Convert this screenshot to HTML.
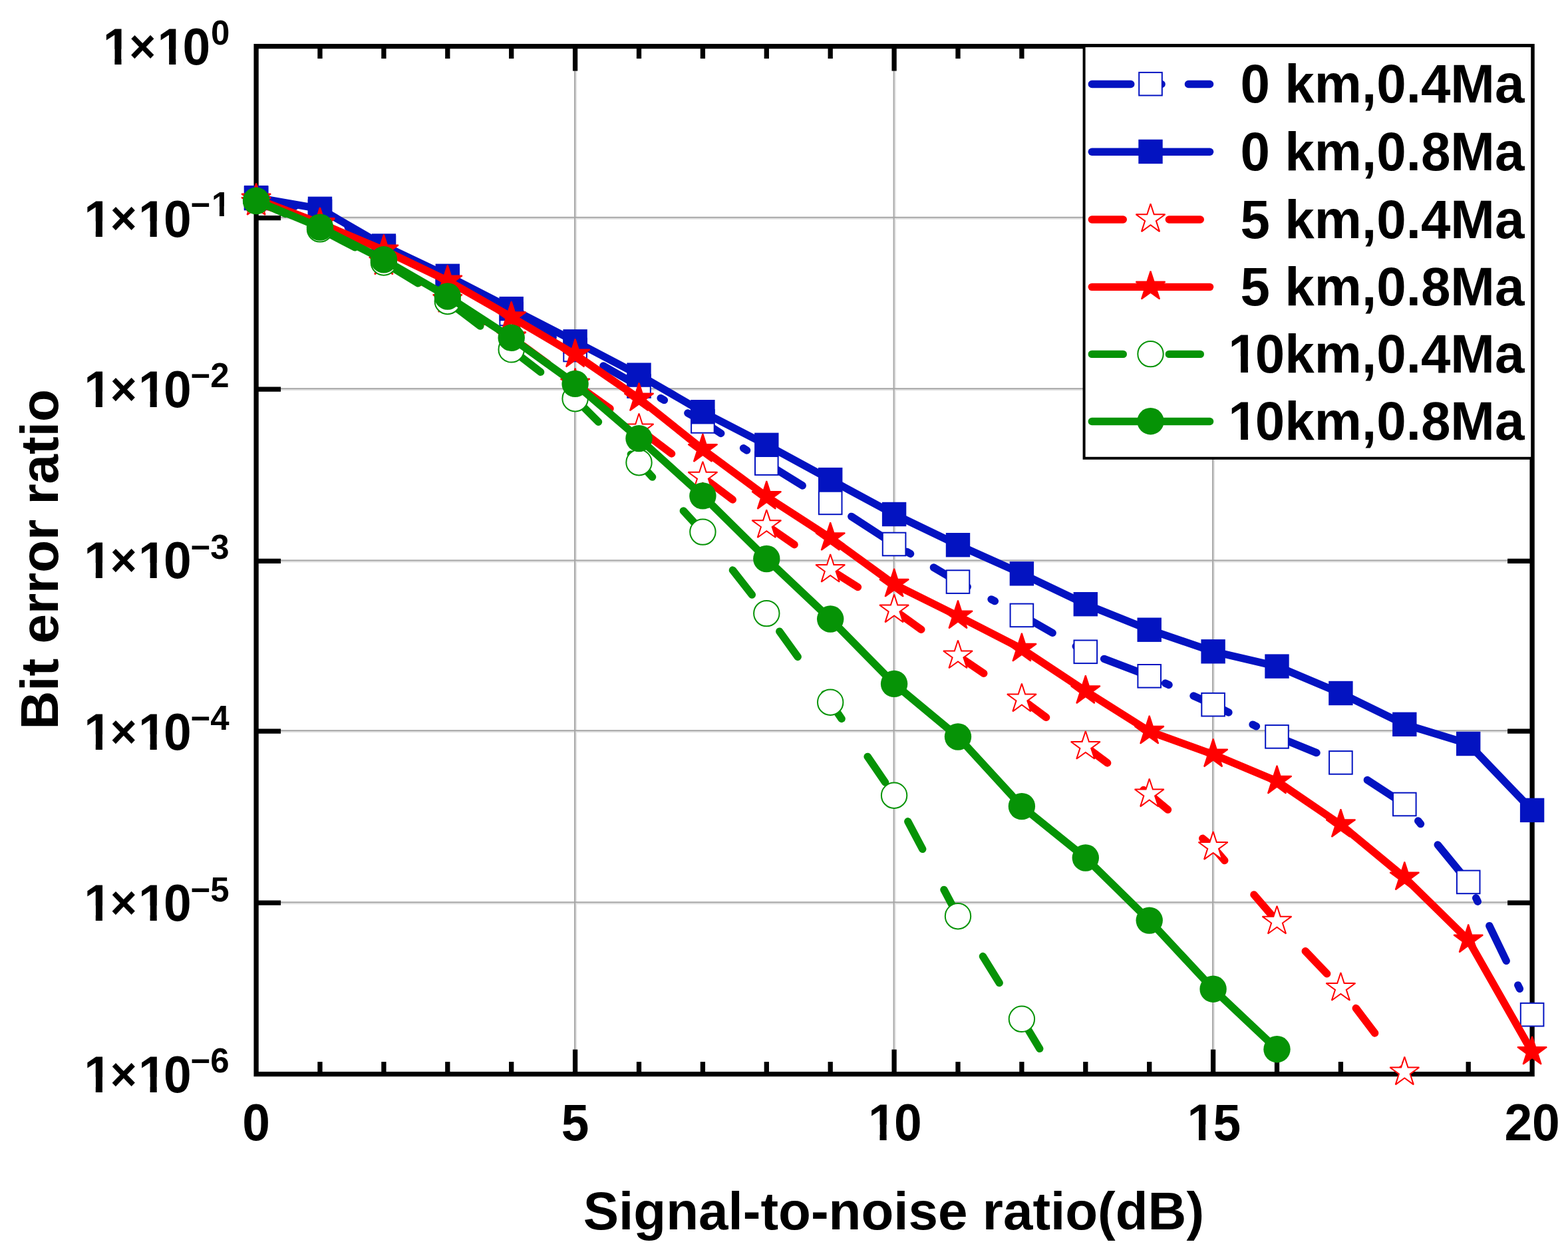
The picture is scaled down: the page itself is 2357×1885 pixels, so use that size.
<!DOCTYPE html>
<html lang="en"><head><meta charset="utf-8"><title>Bit error ratio vs signal-to-noise ratio</title>
<style>html,body{margin:0;padding:0;background:#fff}svg{display:block}text{font-family:"Liberation Sans",sans-serif;font-weight:bold;fill:#000}</style>
</head><body>
<svg width="2357" height="1885" viewBox="0 0 2357 1885">
<rect x="0" y="0" width="2357" height="1885" fill="#fff"/>
<defs><clipPath id="k0"><path clip-rule="evenodd" d="M-9000 -9000H9000V9000H-9000ZM1849.58 -24H1865.14V4H1849.58ZM1875.94 -24H1889.18V4H1875.94Z"/></clipPath><clipPath id="k1"><path clip-rule="evenodd" d="M-9000 -9000H9000V9000H-9000ZM1849.58 -24H1865.14V4H1849.58ZM1875.94 -24H1889.18V4H1875.94Z"/></clipPath><clipPath id="k2"><path clip-rule="evenodd" d="M-9000 -9000H9000V9000H-9000ZM1307.9 -22.5H1322.49V3.75H1307.9ZM1332.61 -22.5H1345.03V3.75H1332.61Z"/></clipPath><clipPath id="k3"><path clip-rule="evenodd" d="M-9000 -9000H9000V9000H-9000ZM1787.4 -22.5H1801.99V3.75H1787.4ZM1812.11 -22.5H1824.53V3.75H1812.11Z"/></clipPath><clipPath id="k4"><path clip-rule="evenodd" d="M-9000 -9000H9000V9000H-9000ZM129.2 -22.5H143.79V3.75H129.2ZM153.91 -22.5H166.32V3.75H153.91ZM211 -22.5H225.59V3.75H211ZM235.71 -22.5H248.12V3.75H235.71Z"/></clipPath><clipPath id="k5"><path clip-rule="evenodd" d="M-9000 -9000H9000V9000H-9000ZM157.8 -22.5H172.39V3.75H157.8ZM182.51 -22.5H194.93V3.75H182.51ZM239.6 -22.5H254.19V3.75H239.6ZM264.31 -22.5H276.73V3.75H264.31Z"/></clipPath><clipPath id="k6"><path clip-rule="evenodd" d="M-9000 -9000H9000V9000H-9000ZM320.02 -15.3H329.94V2.55H320.02ZM336.83 -15.3H345.27V2.55H336.83Z"/></clipPath></defs>
<defs><clipPath id="pc"><rect x="377.1" y="69.6" width="1934" height="1545"/></clipPath></defs>
<g fill="#e2e2e2"><rect x="385.1" y="327.8" width="1918" height="2"/><rect x="385.1" y="585.2" width="1918" height="2"/><rect x="385.1" y="843.4" width="1918" height="2"/><rect x="385.1" y="1099.2" width="1918" height="2"/><rect x="385.1" y="1357.3" width="1918" height="2"/><rect x="865.1" y="69.6" width="2" height="1545"/><rect x="1344.6" y="69.6" width="2" height="1545"/><rect x="1824.1" y="69.6" width="2" height="1545"/></g>
<g fill="#a6a6a6"><rect x="385.1" y="325.8" width="1918" height="2"/><rect x="385.1" y="583.2" width="1918" height="2"/><rect x="385.1" y="841.4" width="1918" height="2"/><rect x="385.1" y="1097.2" width="1918" height="2"/><rect x="385.1" y="1355.3" width="1918" height="2"/><rect x="863.1" y="69.6" width="2" height="1545"/><rect x="1342.6" y="69.6" width="2" height="1545"/><rect x="1822.1" y="69.6" width="2" height="1545"/></g>
<g stroke="#000" stroke-width="7.3" fill="none"><rect x="385.1" y="69.6" width="1918" height="1545" fill="none"/><line x1="481" y1="1614.6" x2="481" y2="1596.1"/><line x1="481" y1="69.6" x2="481" y2="88.1"/><line x1="576.9" y1="1614.6" x2="576.9" y2="1596.1"/><line x1="576.9" y1="69.6" x2="576.9" y2="88.1"/><line x1="672.8" y1="1614.6" x2="672.8" y2="1596.1"/><line x1="672.8" y1="69.6" x2="672.8" y2="88.1"/><line x1="768.7" y1="1614.6" x2="768.7" y2="1596.1"/><line x1="768.7" y1="69.6" x2="768.7" y2="88.1"/><line x1="864.6" y1="1614.6" x2="864.6" y2="1577.6"/><line x1="864.6" y1="69.6" x2="864.6" y2="106.6"/><line x1="960.5" y1="1614.6" x2="960.5" y2="1596.1"/><line x1="960.5" y1="69.6" x2="960.5" y2="88.1"/><line x1="1056.4" y1="1614.6" x2="1056.4" y2="1596.1"/><line x1="1056.4" y1="69.6" x2="1056.4" y2="88.1"/><line x1="1152.3" y1="1614.6" x2="1152.3" y2="1596.1"/><line x1="1152.3" y1="69.6" x2="1152.3" y2="88.1"/><line x1="1248.2" y1="1614.6" x2="1248.2" y2="1596.1"/><line x1="1248.2" y1="69.6" x2="1248.2" y2="88.1"/><line x1="1344.1" y1="1614.6" x2="1344.1" y2="1577.6"/><line x1="1344.1" y1="69.6" x2="1344.1" y2="106.6"/><line x1="1440" y1="1614.6" x2="1440" y2="1596.1"/><line x1="1440" y1="69.6" x2="1440" y2="88.1"/><line x1="1535.9" y1="1614.6" x2="1535.9" y2="1596.1"/><line x1="1535.9" y1="69.6" x2="1535.9" y2="88.1"/><line x1="1631.8" y1="1614.6" x2="1631.8" y2="1596.1"/><line x1="1631.8" y1="69.6" x2="1631.8" y2="88.1"/><line x1="1727.7" y1="1614.6" x2="1727.7" y2="1596.1"/><line x1="1727.7" y1="69.6" x2="1727.7" y2="88.1"/><line x1="1823.6" y1="1614.6" x2="1823.6" y2="1577.6"/><line x1="1823.6" y1="69.6" x2="1823.6" y2="106.6"/><line x1="1919.5" y1="1614.6" x2="1919.5" y2="1596.1"/><line x1="1919.5" y1="69.6" x2="1919.5" y2="88.1"/><line x1="2015.4" y1="1614.6" x2="2015.4" y2="1596.1"/><line x1="2015.4" y1="69.6" x2="2015.4" y2="88.1"/><line x1="2111.3" y1="1614.6" x2="2111.3" y2="1596.1"/><line x1="2111.3" y1="69.6" x2="2111.3" y2="88.1"/><line x1="2207.2" y1="1614.6" x2="2207.2" y2="1596.1"/><line x1="2207.2" y1="69.6" x2="2207.2" y2="88.1"/><line x1="385.1" y1="327.7" x2="422.1" y2="327.7"/><line x1="2303.1" y1="327.7" x2="2266.1" y2="327.7"/><line x1="385.1" y1="585.1" x2="422.1" y2="585.1"/><line x1="2303.1" y1="585.1" x2="2266.1" y2="585.1"/><line x1="385.1" y1="843.3" x2="422.1" y2="843.3"/><line x1="2303.1" y1="843.3" x2="2266.1" y2="843.3"/><line x1="385.1" y1="1099.1" x2="422.1" y2="1099.1"/><line x1="2303.1" y1="1099.1" x2="2266.1" y2="1099.1"/><line x1="385.1" y1="1357.2" x2="422.1" y2="1357.2"/><line x1="2303.1" y1="1357.2" x2="2266.1" y2="1357.2"/></g>
<g>
<polyline clip-path="url(#pc)" points="385.1,298 481,318 576.9,372 672.8,420 768.7,471.9 864.6,526 960.5,580.5 1056.4,633.4 1152.3,696.6 1248.2,755.9 1344.1,818 1440,874.6 1535.9,924.9 1631.8,979.8 1727.7,1016.3 1823.6,1059.2 1919.5,1107.4 2015.4,1146.4 2111.3,1209 2207.2,1325.9 2303.1,1525.2" fill="none" stroke="#0313C1" stroke-width="11.4" stroke-linecap="round" stroke-linejoin="round" stroke-dasharray="58.5 40.5 6 40.5" stroke-dashoffset="144.5"/>
<rect x="367.8" y="280.7" width="34.6" height="34.6" fill="#fff" stroke="#0313C1" stroke-width="2.0"/>
<rect x="463.7" y="300.7" width="34.6" height="34.6" fill="#fff" stroke="#0313C1" stroke-width="2.0"/>
<rect x="559.6" y="354.7" width="34.6" height="34.6" fill="#fff" stroke="#0313C1" stroke-width="2.0"/>
<rect x="655.5" y="402.7" width="34.6" height="34.6" fill="#fff" stroke="#0313C1" stroke-width="2.0"/>
<rect x="751.4" y="454.6" width="34.6" height="34.6" fill="#fff" stroke="#0313C1" stroke-width="2.0"/>
<rect x="847.3" y="508.7" width="34.6" height="34.6" fill="#fff" stroke="#0313C1" stroke-width="2.0"/>
<rect x="943.2" y="563.2" width="34.6" height="34.6" fill="#fff" stroke="#0313C1" stroke-width="2.0"/>
<rect x="1039.1" y="616.1" width="34.6" height="34.6" fill="#fff" stroke="#0313C1" stroke-width="2.0"/>
<rect x="1135" y="679.3" width="34.6" height="34.6" fill="#fff" stroke="#0313C1" stroke-width="2.0"/>
<rect x="1230.9" y="738.6" width="34.6" height="34.6" fill="#fff" stroke="#0313C1" stroke-width="2.0"/>
<rect x="1326.8" y="800.7" width="34.6" height="34.6" fill="#fff" stroke="#0313C1" stroke-width="2.0"/>
<rect x="1422.7" y="857.3" width="34.6" height="34.6" fill="#fff" stroke="#0313C1" stroke-width="2.0"/>
<rect x="1518.6" y="907.6" width="34.6" height="34.6" fill="#fff" stroke="#0313C1" stroke-width="2.0"/>
<rect x="1614.5" y="962.5" width="34.6" height="34.6" fill="#fff" stroke="#0313C1" stroke-width="2.0"/>
<rect x="1710.4" y="999" width="34.6" height="34.6" fill="#fff" stroke="#0313C1" stroke-width="2.0"/>
<rect x="1806.3" y="1041.9" width="34.6" height="34.6" fill="#fff" stroke="#0313C1" stroke-width="2.0"/>
<rect x="1902.2" y="1090.1" width="34.6" height="34.6" fill="#fff" stroke="#0313C1" stroke-width="2.0"/>
<rect x="1998.1" y="1129.1" width="34.6" height="34.6" fill="#fff" stroke="#0313C1" stroke-width="2.0"/>
<rect x="2094" y="1191.7" width="34.6" height="34.6" fill="#fff" stroke="#0313C1" stroke-width="2.0"/>
<rect x="2189.9" y="1308.6" width="34.6" height="34.6" fill="#fff" stroke="#0313C1" stroke-width="2.0"/>
<rect x="2285.8" y="1507.9" width="34.6" height="34.6" fill="#fff" stroke="#0313C1" stroke-width="2.0"/>
<polyline clip-path="url(#pc)" points="385.1,297.1 481,313.8 576.9,369.5 672.8,414.8 768.7,464.1 864.6,513.3 960.5,563.6 1056.4,619.2 1152.3,668.8 1248.2,721.1 1344.1,773 1440,819.2 1535.9,862.3 1631.8,908.2 1727.7,946.7 1823.6,979.3 1919.5,1001.6 2015.4,1042 2111.3,1088.8 2207.2,1118 2303.1,1217.9" fill="none" stroke="#0313C1" stroke-width="11.4" stroke-linecap="round" stroke-linejoin="round"/>
<rect x="366.9" y="278.9" width="36.4" height="36.4" fill="#0313C1"/>
<rect x="462.8" y="295.6" width="36.4" height="36.4" fill="#0313C1"/>
<rect x="558.7" y="351.3" width="36.4" height="36.4" fill="#0313C1"/>
<rect x="654.6" y="396.6" width="36.4" height="36.4" fill="#0313C1"/>
<rect x="750.5" y="445.9" width="36.4" height="36.4" fill="#0313C1"/>
<rect x="846.4" y="495.1" width="36.4" height="36.4" fill="#0313C1"/>
<rect x="942.3" y="545.4" width="36.4" height="36.4" fill="#0313C1"/>
<rect x="1038.2" y="601" width="36.4" height="36.4" fill="#0313C1"/>
<rect x="1134.1" y="650.6" width="36.4" height="36.4" fill="#0313C1"/>
<rect x="1230" y="702.9" width="36.4" height="36.4" fill="#0313C1"/>
<rect x="1325.9" y="754.8" width="36.4" height="36.4" fill="#0313C1"/>
<rect x="1421.8" y="801" width="36.4" height="36.4" fill="#0313C1"/>
<rect x="1517.7" y="844.1" width="36.4" height="36.4" fill="#0313C1"/>
<rect x="1613.6" y="890" width="36.4" height="36.4" fill="#0313C1"/>
<rect x="1709.5" y="928.5" width="36.4" height="36.4" fill="#0313C1"/>
<rect x="1805.4" y="961.1" width="36.4" height="36.4" fill="#0313C1"/>
<rect x="1901.3" y="983.4" width="36.4" height="36.4" fill="#0313C1"/>
<rect x="1997.2" y="1023.8" width="36.4" height="36.4" fill="#0313C1"/>
<rect x="2093.1" y="1070.6" width="36.4" height="36.4" fill="#0313C1"/>
<rect x="2189" y="1099.8" width="36.4" height="36.4" fill="#0313C1"/>
<rect x="2284.9" y="1199.7" width="36.4" height="36.4" fill="#0313C1"/>
<polyline clip-path="url(#pc)" points="385.1,304.5 481,336.5 576.9,394 672.8,450.5 768.7,506.8 864.6,577 960.5,644.9 1056.4,717.2 1152.3,789.6 1248.2,856.4 1344.1,917 1440,985.9 1535.9,1051 1631.8,1122.4 1727.7,1194 1823.6,1273.5 1919.5,1385.1 2015.4,1485.4 2111.3,1612" fill="none" stroke="#FF0000" stroke-width="11.4" stroke-linecap="round" stroke-linejoin="round" stroke-dasharray="47 67.8" stroke-dashoffset="2.5"/>
<polygon points="385.1,281.1 390.29,297.06 407.07,297.06 393.49,306.93 398.68,322.89 385.1,313.02 371.52,322.89 376.71,306.93 363.13,297.06 379.91,297.06" fill="#fff" stroke="#FF0000" stroke-width="2.0" stroke-linejoin="miter" stroke-miterlimit="2"/>
<polygon points="481,313.1 486.19,329.06 502.97,329.06 489.39,338.93 494.58,354.89 481,345.02 467.42,354.89 472.61,338.93 459.03,329.06 475.81,329.06" fill="#fff" stroke="#FF0000" stroke-width="2.0" stroke-linejoin="miter" stroke-miterlimit="2"/>
<polygon points="576.9,370.6 582.09,386.56 598.87,386.56 585.29,396.43 590.48,412.39 576.9,402.52 563.32,412.39 568.51,396.43 554.93,386.56 571.71,386.56" fill="#fff" stroke="#FF0000" stroke-width="2.0" stroke-linejoin="miter" stroke-miterlimit="2"/>
<polygon points="672.8,427.1 677.99,443.06 694.77,443.06 681.19,452.93 686.38,468.89 672.8,459.02 659.22,468.89 664.41,452.93 650.83,443.06 667.61,443.06" fill="#fff" stroke="#FF0000" stroke-width="2.0" stroke-linejoin="miter" stroke-miterlimit="2"/>
<polygon points="768.7,483.4 773.89,499.36 790.67,499.36 777.09,509.23 782.28,525.19 768.7,515.32 755.12,525.19 760.31,509.23 746.73,499.36 763.51,499.36" fill="#fff" stroke="#FF0000" stroke-width="2.0" stroke-linejoin="miter" stroke-miterlimit="2"/>
<polygon points="864.6,553.6 869.79,569.56 886.57,569.56 872.99,579.43 878.18,595.39 864.6,585.52 851.02,595.39 856.21,579.43 842.63,569.56 859.41,569.56" fill="#fff" stroke="#FF0000" stroke-width="2.0" stroke-linejoin="miter" stroke-miterlimit="2"/>
<polygon points="960.5,621.5 965.69,637.46 982.47,637.46 968.89,647.33 974.08,663.29 960.5,653.42 946.92,663.29 952.11,647.33 938.53,637.46 955.31,637.46" fill="#fff" stroke="#FF0000" stroke-width="2.0" stroke-linejoin="miter" stroke-miterlimit="2"/>
<polygon points="1056.4,693.8 1061.59,709.76 1078.37,709.76 1064.79,719.63 1069.98,735.59 1056.4,725.72 1042.82,735.59 1048.01,719.63 1034.43,709.76 1051.21,709.76" fill="#fff" stroke="#FF0000" stroke-width="2.0" stroke-linejoin="miter" stroke-miterlimit="2"/>
<polygon points="1152.3,766.2 1157.49,782.16 1174.27,782.16 1160.69,792.03 1165.88,807.99 1152.3,798.12 1138.72,807.99 1143.91,792.03 1130.33,782.16 1147.11,782.16" fill="#fff" stroke="#FF0000" stroke-width="2.0" stroke-linejoin="miter" stroke-miterlimit="2"/>
<polygon points="1248.2,833 1253.39,848.96 1270.17,848.96 1256.59,858.83 1261.78,874.79 1248.2,864.92 1234.62,874.79 1239.81,858.83 1226.23,848.96 1243.01,848.96" fill="#fff" stroke="#FF0000" stroke-width="2.0" stroke-linejoin="miter" stroke-miterlimit="2"/>
<polygon points="1344.1,893.6 1349.29,909.56 1366.07,909.56 1352.49,919.43 1357.68,935.39 1344.1,925.52 1330.52,935.39 1335.71,919.43 1322.13,909.56 1338.91,909.56" fill="#fff" stroke="#FF0000" stroke-width="2.0" stroke-linejoin="miter" stroke-miterlimit="2"/>
<polygon points="1440,962.5 1445.19,978.46 1461.97,978.46 1448.39,988.33 1453.58,1004.29 1440,994.42 1426.42,1004.29 1431.61,988.33 1418.03,978.46 1434.81,978.46" fill="#fff" stroke="#FF0000" stroke-width="2.0" stroke-linejoin="miter" stroke-miterlimit="2"/>
<polygon points="1535.9,1027.6 1541.09,1043.56 1557.87,1043.56 1544.29,1053.43 1549.48,1069.39 1535.9,1059.52 1522.32,1069.39 1527.51,1053.43 1513.93,1043.56 1530.71,1043.56" fill="#fff" stroke="#FF0000" stroke-width="2.0" stroke-linejoin="miter" stroke-miterlimit="2"/>
<polygon points="1631.8,1099 1636.99,1114.96 1653.77,1114.96 1640.19,1124.83 1645.38,1140.79 1631.8,1130.92 1618.22,1140.79 1623.41,1124.83 1609.83,1114.96 1626.61,1114.96" fill="#fff" stroke="#FF0000" stroke-width="2.0" stroke-linejoin="miter" stroke-miterlimit="2"/>
<polygon points="1727.7,1170.6 1732.89,1186.56 1749.67,1186.56 1736.09,1196.43 1741.28,1212.39 1727.7,1202.52 1714.12,1212.39 1719.31,1196.43 1705.73,1186.56 1722.51,1186.56" fill="#fff" stroke="#FF0000" stroke-width="2.0" stroke-linejoin="miter" stroke-miterlimit="2"/>
<polygon points="1823.6,1250.1 1828.79,1266.06 1845.57,1266.06 1831.99,1275.93 1837.18,1291.89 1823.6,1282.02 1810.02,1291.89 1815.21,1275.93 1801.63,1266.06 1818.41,1266.06" fill="#fff" stroke="#FF0000" stroke-width="2.0" stroke-linejoin="miter" stroke-miterlimit="2"/>
<polygon points="1919.5,1361.7 1924.69,1377.66 1941.47,1377.66 1927.89,1387.53 1933.08,1403.49 1919.5,1393.62 1905.92,1403.49 1911.11,1387.53 1897.53,1377.66 1914.31,1377.66" fill="#fff" stroke="#FF0000" stroke-width="2.0" stroke-linejoin="miter" stroke-miterlimit="2"/>
<polygon points="2015.4,1462 2020.59,1477.96 2037.37,1477.96 2023.79,1487.83 2028.98,1503.79 2015.4,1493.92 2001.82,1503.79 2007.01,1487.83 1993.43,1477.96 2010.21,1477.96" fill="#fff" stroke="#FF0000" stroke-width="2.0" stroke-linejoin="miter" stroke-miterlimit="2"/>
<polygon points="2111.3,1588.6 2116.49,1604.56 2133.27,1604.56 2119.69,1614.43 2124.88,1630.39 2111.3,1620.52 2097.72,1630.39 2102.91,1614.43 2089.33,1604.56 2106.11,1604.56" fill="#fff" stroke="#FF0000" stroke-width="2.0" stroke-linejoin="miter" stroke-miterlimit="2"/>
<polyline clip-path="url(#pc)" points="385.1,299 481,335.5 576.9,376 672.8,422 768.7,476.6 864.6,533 960.5,598.9 1056.4,675.5 1152.3,746.5 1248.2,808.6 1344.1,878.3 1440,926 1535.9,975.3 1631.8,1038.7 1727.7,1099.3 1823.6,1134 1919.5,1174.2 2015.4,1239.6 2111.3,1319 2207.2,1413 2303.1,1581.4" fill="none" stroke="#FF0000" stroke-width="11.4" stroke-linecap="round" stroke-linejoin="round"/>
<polygon points="385.1,275.6 390.29,291.56 407.07,291.56 393.49,301.43 398.68,317.39 385.1,307.52 371.52,317.39 376.71,301.43 363.13,291.56 379.91,291.56" fill="#FF0000" stroke="#FF0000" stroke-width="2.0" stroke-linejoin="miter" stroke-miterlimit="2"/>
<polygon points="481,312.1 486.19,328.06 502.97,328.06 489.39,337.93 494.58,353.89 481,344.02 467.42,353.89 472.61,337.93 459.03,328.06 475.81,328.06" fill="#FF0000" stroke="#FF0000" stroke-width="2.0" stroke-linejoin="miter" stroke-miterlimit="2"/>
<polygon points="576.9,352.6 582.09,368.56 598.87,368.56 585.29,378.43 590.48,394.39 576.9,384.52 563.32,394.39 568.51,378.43 554.93,368.56 571.71,368.56" fill="#FF0000" stroke="#FF0000" stroke-width="2.0" stroke-linejoin="miter" stroke-miterlimit="2"/>
<polygon points="672.8,398.6 677.99,414.56 694.77,414.56 681.19,424.43 686.38,440.39 672.8,430.52 659.22,440.39 664.41,424.43 650.83,414.56 667.61,414.56" fill="#FF0000" stroke="#FF0000" stroke-width="2.0" stroke-linejoin="miter" stroke-miterlimit="2"/>
<polygon points="768.7,453.2 773.89,469.16 790.67,469.16 777.09,479.03 782.28,494.99 768.7,485.12 755.12,494.99 760.31,479.03 746.73,469.16 763.51,469.16" fill="#FF0000" stroke="#FF0000" stroke-width="2.0" stroke-linejoin="miter" stroke-miterlimit="2"/>
<polygon points="864.6,509.6 869.79,525.56 886.57,525.56 872.99,535.43 878.18,551.39 864.6,541.52 851.02,551.39 856.21,535.43 842.63,525.56 859.41,525.56" fill="#FF0000" stroke="#FF0000" stroke-width="2.0" stroke-linejoin="miter" stroke-miterlimit="2"/>
<polygon points="960.5,575.5 965.69,591.46 982.47,591.46 968.89,601.33 974.08,617.29 960.5,607.42 946.92,617.29 952.11,601.33 938.53,591.46 955.31,591.46" fill="#FF0000" stroke="#FF0000" stroke-width="2.0" stroke-linejoin="miter" stroke-miterlimit="2"/>
<polygon points="1056.4,652.1 1061.59,668.06 1078.37,668.06 1064.79,677.93 1069.98,693.89 1056.4,684.02 1042.82,693.89 1048.01,677.93 1034.43,668.06 1051.21,668.06" fill="#FF0000" stroke="#FF0000" stroke-width="2.0" stroke-linejoin="miter" stroke-miterlimit="2"/>
<polygon points="1152.3,723.1 1157.49,739.06 1174.27,739.06 1160.69,748.93 1165.88,764.89 1152.3,755.02 1138.72,764.89 1143.91,748.93 1130.33,739.06 1147.11,739.06" fill="#FF0000" stroke="#FF0000" stroke-width="2.0" stroke-linejoin="miter" stroke-miterlimit="2"/>
<polygon points="1248.2,785.2 1253.39,801.16 1270.17,801.16 1256.59,811.03 1261.78,826.99 1248.2,817.12 1234.62,826.99 1239.81,811.03 1226.23,801.16 1243.01,801.16" fill="#FF0000" stroke="#FF0000" stroke-width="2.0" stroke-linejoin="miter" stroke-miterlimit="2"/>
<polygon points="1344.1,854.9 1349.29,870.86 1366.07,870.86 1352.49,880.73 1357.68,896.69 1344.1,886.82 1330.52,896.69 1335.71,880.73 1322.13,870.86 1338.91,870.86" fill="#FF0000" stroke="#FF0000" stroke-width="2.0" stroke-linejoin="miter" stroke-miterlimit="2"/>
<polygon points="1440,902.6 1445.19,918.56 1461.97,918.56 1448.39,928.43 1453.58,944.39 1440,934.52 1426.42,944.39 1431.61,928.43 1418.03,918.56 1434.81,918.56" fill="#FF0000" stroke="#FF0000" stroke-width="2.0" stroke-linejoin="miter" stroke-miterlimit="2"/>
<polygon points="1535.9,951.9 1541.09,967.86 1557.87,967.86 1544.29,977.73 1549.48,993.69 1535.9,983.82 1522.32,993.69 1527.51,977.73 1513.93,967.86 1530.71,967.86" fill="#FF0000" stroke="#FF0000" stroke-width="2.0" stroke-linejoin="miter" stroke-miterlimit="2"/>
<polygon points="1631.8,1015.3 1636.99,1031.26 1653.77,1031.26 1640.19,1041.13 1645.38,1057.09 1631.8,1047.22 1618.22,1057.09 1623.41,1041.13 1609.83,1031.26 1626.61,1031.26" fill="#FF0000" stroke="#FF0000" stroke-width="2.0" stroke-linejoin="miter" stroke-miterlimit="2"/>
<polygon points="1727.7,1075.9 1732.89,1091.86 1749.67,1091.86 1736.09,1101.73 1741.28,1117.69 1727.7,1107.82 1714.12,1117.69 1719.31,1101.73 1705.73,1091.86 1722.51,1091.86" fill="#FF0000" stroke="#FF0000" stroke-width="2.0" stroke-linejoin="miter" stroke-miterlimit="2"/>
<polygon points="1823.6,1110.6 1828.79,1126.56 1845.57,1126.56 1831.99,1136.43 1837.18,1152.39 1823.6,1142.52 1810.02,1152.39 1815.21,1136.43 1801.63,1126.56 1818.41,1126.56" fill="#FF0000" stroke="#FF0000" stroke-width="2.0" stroke-linejoin="miter" stroke-miterlimit="2"/>
<polygon points="1919.5,1150.8 1924.69,1166.76 1941.47,1166.76 1927.89,1176.63 1933.08,1192.59 1919.5,1182.72 1905.92,1192.59 1911.11,1176.63 1897.53,1166.76 1914.31,1166.76" fill="#FF0000" stroke="#FF0000" stroke-width="2.0" stroke-linejoin="miter" stroke-miterlimit="2"/>
<polygon points="2015.4,1216.2 2020.59,1232.16 2037.37,1232.16 2023.79,1242.03 2028.98,1257.99 2015.4,1248.12 2001.82,1257.99 2007.01,1242.03 1993.43,1232.16 2010.21,1232.16" fill="#FF0000" stroke="#FF0000" stroke-width="2.0" stroke-linejoin="miter" stroke-miterlimit="2"/>
<polygon points="2111.3,1295.6 2116.49,1311.56 2133.27,1311.56 2119.69,1321.43 2124.88,1337.39 2111.3,1327.52 2097.72,1337.39 2102.91,1321.43 2089.33,1311.56 2106.11,1311.56" fill="#FF0000" stroke="#FF0000" stroke-width="2.0" stroke-linejoin="miter" stroke-miterlimit="2"/>
<polygon points="2207.2,1389.6 2212.39,1405.56 2229.17,1405.56 2215.59,1415.43 2220.78,1431.39 2207.2,1421.52 2193.62,1431.39 2198.81,1415.43 2185.23,1405.56 2202.01,1405.56" fill="#FF0000" stroke="#FF0000" stroke-width="2.0" stroke-linejoin="miter" stroke-miterlimit="2"/>
<polygon points="2303.1,1558 2308.29,1573.96 2325.07,1573.96 2311.49,1583.83 2316.68,1599.79 2303.1,1589.92 2289.52,1599.79 2294.71,1583.83 2281.13,1573.96 2297.91,1573.96" fill="#FF0000" stroke="#FF0000" stroke-width="2.0" stroke-linejoin="miter" stroke-miterlimit="2"/>
<polyline clip-path="url(#pc)" points="385.1,302 481,344.4 576.9,394.5" fill="none" stroke="#069306" stroke-width="11.4" stroke-linecap="round" stroke-linejoin="round" stroke-dasharray="47 69" stroke-dashoffset="115"/>
<polyline clip-path="url(#pc)" points="576.9,394.5 672.8,453" fill="none" stroke="#069306" stroke-width="11.4" stroke-linecap="round" stroke-linejoin="round" stroke-dasharray="47 69" stroke-dashoffset="103.05"/>
<polyline clip-path="url(#pc)" points="672.8,453 768.7,525.4" fill="none" stroke="#069306" stroke-width="11.4" stroke-linecap="round" stroke-linejoin="round" stroke-dasharray="47 69" stroke-dashoffset="101.39"/>
<polyline clip-path="url(#pc)" points="768.7,525.4 864.6,599.2" fill="none" stroke="#069306" stroke-width="11.4" stroke-linecap="round" stroke-linejoin="round" stroke-dasharray="47 69" stroke-dashoffset="107.55"/>
<polyline clip-path="url(#pc)" points="864.6,599.2 960.5,695.2 1056.4,799.6 1152.3,922.1 1248.2,1055.7" fill="none" stroke="#069306" stroke-width="11.4" stroke-linecap="round" stroke-linejoin="round" stroke-dasharray="47 69" stroke-dashoffset="113.56"/>
<polyline clip-path="url(#pc)" points="1248.2,1055.7 1344.1,1195.7" fill="none" stroke="#069306" stroke-width="11.4" stroke-linecap="round" stroke-linejoin="round" stroke-dasharray="47 69" stroke-dashoffset="17.04"/>
<polyline clip-path="url(#pc)" points="1344.1,1195.7 1440,1377.2 1535.9,1531.8 1631.8,1691" fill="none" stroke="#069306" stroke-width="11.4" stroke-linecap="round" stroke-linejoin="round" stroke-dasharray="47 69" stroke-dashoffset="71.74"/>
<circle cx="385.1" cy="302" r="19.2" fill="#fff" stroke="#069306" stroke-width="2.0"/>
<circle cx="481" cy="344.4" r="19.2" fill="#fff" stroke="#069306" stroke-width="2.0"/>
<circle cx="576.9" cy="394.5" r="19.2" fill="#fff" stroke="#069306" stroke-width="2.0"/>
<circle cx="672.8" cy="453" r="19.2" fill="#fff" stroke="#069306" stroke-width="2.0"/>
<circle cx="768.7" cy="525.4" r="19.2" fill="#fff" stroke="#069306" stroke-width="2.0"/>
<circle cx="864.6" cy="599.2" r="19.2" fill="#fff" stroke="#069306" stroke-width="2.0"/>
<circle cx="960.5" cy="695.2" r="19.2" fill="#fff" stroke="#069306" stroke-width="2.0"/>
<circle cx="1056.4" cy="799.6" r="19.2" fill="#fff" stroke="#069306" stroke-width="2.0"/>
<circle cx="1152.3" cy="922.1" r="19.2" fill="#fff" stroke="#069306" stroke-width="2.0"/>
<circle cx="1248.2" cy="1055.7" r="19.2" fill="#fff" stroke="#069306" stroke-width="2.0"/>
<circle cx="1344.1" cy="1195.7" r="19.2" fill="#fff" stroke="#069306" stroke-width="2.0"/>
<circle cx="1440" cy="1377.2" r="19.2" fill="#fff" stroke="#069306" stroke-width="2.0"/>
<circle cx="1535.9" cy="1531.8" r="19.2" fill="#fff" stroke="#069306" stroke-width="2.0"/>
<polyline clip-path="url(#pc)" points="385.1,301.8 481,341.6 576.9,390.3 672.8,445.5 768.7,507.8 864.6,576.9 960.5,659.1 1056.4,745.4 1152.3,840 1248.2,930.5 1344.1,1027.9 1440,1107.5 1535.9,1212.1 1631.8,1289.5 1727.7,1383.6 1823.6,1486.7 1919.5,1577.2" fill="none" stroke="#069306" stroke-width="11.4" stroke-linecap="round" stroke-linejoin="round"/>
<circle cx="385.1" cy="301.8" r="20.2" fill="#069306"/>
<circle cx="481" cy="341.6" r="20.2" fill="#069306"/>
<circle cx="576.9" cy="390.3" r="20.2" fill="#069306"/>
<circle cx="672.8" cy="445.5" r="20.2" fill="#069306"/>
<circle cx="768.7" cy="507.8" r="20.2" fill="#069306"/>
<circle cx="864.6" cy="576.9" r="20.2" fill="#069306"/>
<circle cx="960.5" cy="659.1" r="20.2" fill="#069306"/>
<circle cx="1056.4" cy="745.4" r="20.2" fill="#069306"/>
<circle cx="1152.3" cy="840" r="20.2" fill="#069306"/>
<circle cx="1248.2" cy="930.5" r="20.2" fill="#069306"/>
<circle cx="1344.1" cy="1027.9" r="20.2" fill="#069306"/>
<circle cx="1440" cy="1107.5" r="20.2" fill="#069306"/>
<circle cx="1535.9" cy="1212.1" r="20.2" fill="#069306"/>
<circle cx="1631.8" cy="1289.5" r="20.2" fill="#069306"/>
<circle cx="1727.7" cy="1383.6" r="20.2" fill="#069306"/>
<circle cx="1823.6" cy="1486.7" r="20.2" fill="#069306"/>
<circle cx="1919.5" cy="1577.2" r="20.2" fill="#069306"/>
</g>
<rect x="1629.6" y="69" width="673.6" height="619.8" fill="#fff" stroke="#000" stroke-width="4"/>
<line x1="1641.3" y1="126.5" x2="1818.6" y2="126.5" stroke="#0313C1" stroke-width="11.4" stroke-linecap="round" stroke-dasharray="58.5 40.3 6 40.3"/>
<rect x="1712.2" y="108.9" width="34.6" height="34.6" fill="#fff" stroke="#0313C1" stroke-width="2.0"/>
<text transform="translate(0 154) scale(1 1.025)" x="1864.62 1909.1 1931.34 1975.82 2046.94 2069.18 2113.66 2135.9 2180.38 2247.02" y="0" font-size="80" xml:space="preserve">0 km,0.4Ma</text>
<line x1="1641.3" y1="228.2" x2="1818.6" y2="228.2" stroke="#0313C1" stroke-width="11.4" stroke-linecap="round"/>
<rect x="1711.3" y="209.7" width="36.4" height="36.4" fill="#0313C1"/>
<text transform="translate(0 255.7) scale(1 1.025)" x="1864.62 1909.1 1931.34 1975.82 2046.94 2069.18 2113.66 2135.9 2180.38 2247.02" y="0" font-size="80" xml:space="preserve">0 km,0.8Ma</text>
<line x1="1641.3" y1="330" x2="1818.6" y2="330" stroke="#FF0000" stroke-width="11.4" stroke-linecap="round" stroke-dasharray="47 69"/>
<polygon points="1729.5,306.3 1734.69,322.26 1751.47,322.26 1737.89,332.13 1743.08,348.09 1729.5,338.22 1715.92,348.09 1721.11,332.13 1707.53,322.26 1724.31,322.26" fill="#fff" stroke="#FF0000" stroke-width="2.0" stroke-linejoin="miter" stroke-miterlimit="2"/>
<text transform="translate(0 357.5) scale(1 1.025)" x="1864.62 1909.1 1931.34 1975.82 2046.94 2069.18 2113.66 2135.9 2180.38 2247.02" y="0" font-size="80" xml:space="preserve">5 km,0.4Ma</text>
<line x1="1641.3" y1="431.35" x2="1818.6" y2="431.35" stroke="#FF0000" stroke-width="11.4" stroke-linecap="round"/>
<polygon points="1729.5,407.65 1734.69,423.61 1751.47,423.61 1737.89,433.48 1743.08,449.44 1729.5,439.57 1715.92,449.44 1721.11,433.48 1707.53,423.61 1724.31,423.61" fill="#FF0000" stroke="#FF0000" stroke-width="2.0" stroke-linejoin="miter" stroke-miterlimit="2"/>
<text transform="translate(0 458.85) scale(1 1.025)" x="1864.62 1909.1 1931.34 1975.82 2046.94 2069.18 2113.66 2135.9 2180.38 2247.02" y="0" font-size="80" xml:space="preserve">5 km,0.8Ma</text>
<line x1="1641.3" y1="532.4" x2="1818.6" y2="532.4" stroke="#069306" stroke-width="11.4" stroke-linecap="round" stroke-dasharray="47 69"/>
<circle cx="1729.5" cy="532.1" r="19.2" fill="#fff" stroke="#069306" stroke-width="2.0"/>
<text transform="translate(0 559.9) scale(1 1.025)" clip-path="url(#k0)" x="1846.38 1886.86 1931.34 1975.82 2046.94 2069.18 2113.66 2135.9 2180.38 2247.02" y="0" font-size="80" xml:space="preserve">10km,0.4Ma</text>
<line x1="1641.3" y1="633.5" x2="1818.6" y2="633.5" stroke="#069306" stroke-width="11.4" stroke-linecap="round"/>
<circle cx="1729.5" cy="633.2" r="20.2" fill="#069306"/>
<text transform="translate(0 661) scale(1 1.025)" clip-path="url(#k1)" x="1846.38 1886.86 1931.34 1975.82 2046.94 2069.18 2113.66 2135.9 2180.38 2247.02" y="0" font-size="80" xml:space="preserve">10km,0.8Ma</text>
<text transform="translate(0 1713.6) scale(1 1.03)" x="364.25" y="0" font-size="75">0</text>
<text transform="translate(0 1713.6) scale(1 1.03)" x="843.75" y="0" font-size="75">5</text>
<text transform="translate(0 1713.6) scale(1 1.03)" clip-path="url(#k2)" x="1304.9 1344.1" y="0" font-size="75">10</text>
<text transform="translate(0 1713.6) scale(1 1.03)" clip-path="url(#k3)" x="1784.4 1823.6" y="0" font-size="75">15</text>
<text transform="translate(0 1713.6) scale(1 1.03)" x="2261.4 2303.1" y="0" font-size="75">20</text>
<text transform="translate(0 96.8) scale(1 1.03)" clip-path="url(#k5)" y="0" font-size="75"><tspan x="154.8">1</tspan><tspan x="194.3" dy="-3.2" font-size="68.5">×</tspan><tspan x="236.6 274.6" dy="3.2">10</tspan></text>
<text transform="translate(0 67.3)" x="317" y="0" font-size="51">0</text>
<text transform="translate(0 355.6) scale(1 1.03)" clip-path="url(#k4)" y="0" font-size="75"><tspan x="126.2">1</tspan><tspan x="165.7" dy="-3.2" font-size="68.5">×</tspan><tspan x="208 246" dy="3.2">10</tspan></text>
<text transform="translate(0 325.4)" clip-path="url(#k6)" x="286.5 317.98" y="0" font-size="51">−1</text>
<text transform="translate(0 611.8) scale(1 1.03)" clip-path="url(#k4)" y="0" font-size="75"><tspan x="126.2">1</tspan><tspan x="165.7" dy="-3.2" font-size="68.5">×</tspan><tspan x="208 246" dy="3.2">10</tspan></text>
<text transform="translate(0 582.3)" x="286.5" y="0" font-size="51">−2</text>
<text transform="translate(0 869.3) scale(1 1.03)" clip-path="url(#k4)" y="0" font-size="75"><tspan x="126.2">1</tspan><tspan x="165.7" dy="-3.2" font-size="68.5">×</tspan><tspan x="208 246" dy="3.2">10</tspan></text>
<text transform="translate(0 839.8)" x="286.5" y="0" font-size="51">−3</text>
<text transform="translate(0 1126.8) scale(1 1.03)" clip-path="url(#k4)" y="0" font-size="75"><tspan x="126.2">1</tspan><tspan x="165.7" dy="-3.2" font-size="68.5">×</tspan><tspan x="208 246" dy="3.2">10</tspan></text>
<text transform="translate(0 1097.3)" x="286.5" y="0" font-size="51">−4</text>
<text transform="translate(0 1384.3) scale(1 1.03)" clip-path="url(#k4)" y="0" font-size="75"><tspan x="126.2">1</tspan><tspan x="165.7" dy="-3.2" font-size="68.5">×</tspan><tspan x="208 246" dy="3.2">10</tspan></text>
<text transform="translate(0 1354.8)" x="286.5" y="0" font-size="51">−5</text>
<text transform="translate(0 1641.8) scale(1 1.03)" clip-path="url(#k4)" y="0" font-size="75"><tspan x="126.2">1</tspan><tspan x="165.7" dy="-3.2" font-size="68.5">×</tspan><tspan x="208 246" dy="3.2">10</tspan></text>
<text transform="translate(0 1612.3)" x="286.5" y="0" font-size="51">−6</text>
<text x="1343.4" y="1848" font-size="80" text-anchor="middle">Signal-to-noise ratio(dB)</text>
<text transform="translate(87.3 840.8) rotate(-90)" font-size="80" text-anchor="middle">Bit error ratio</text>
</svg>
</body></html>
